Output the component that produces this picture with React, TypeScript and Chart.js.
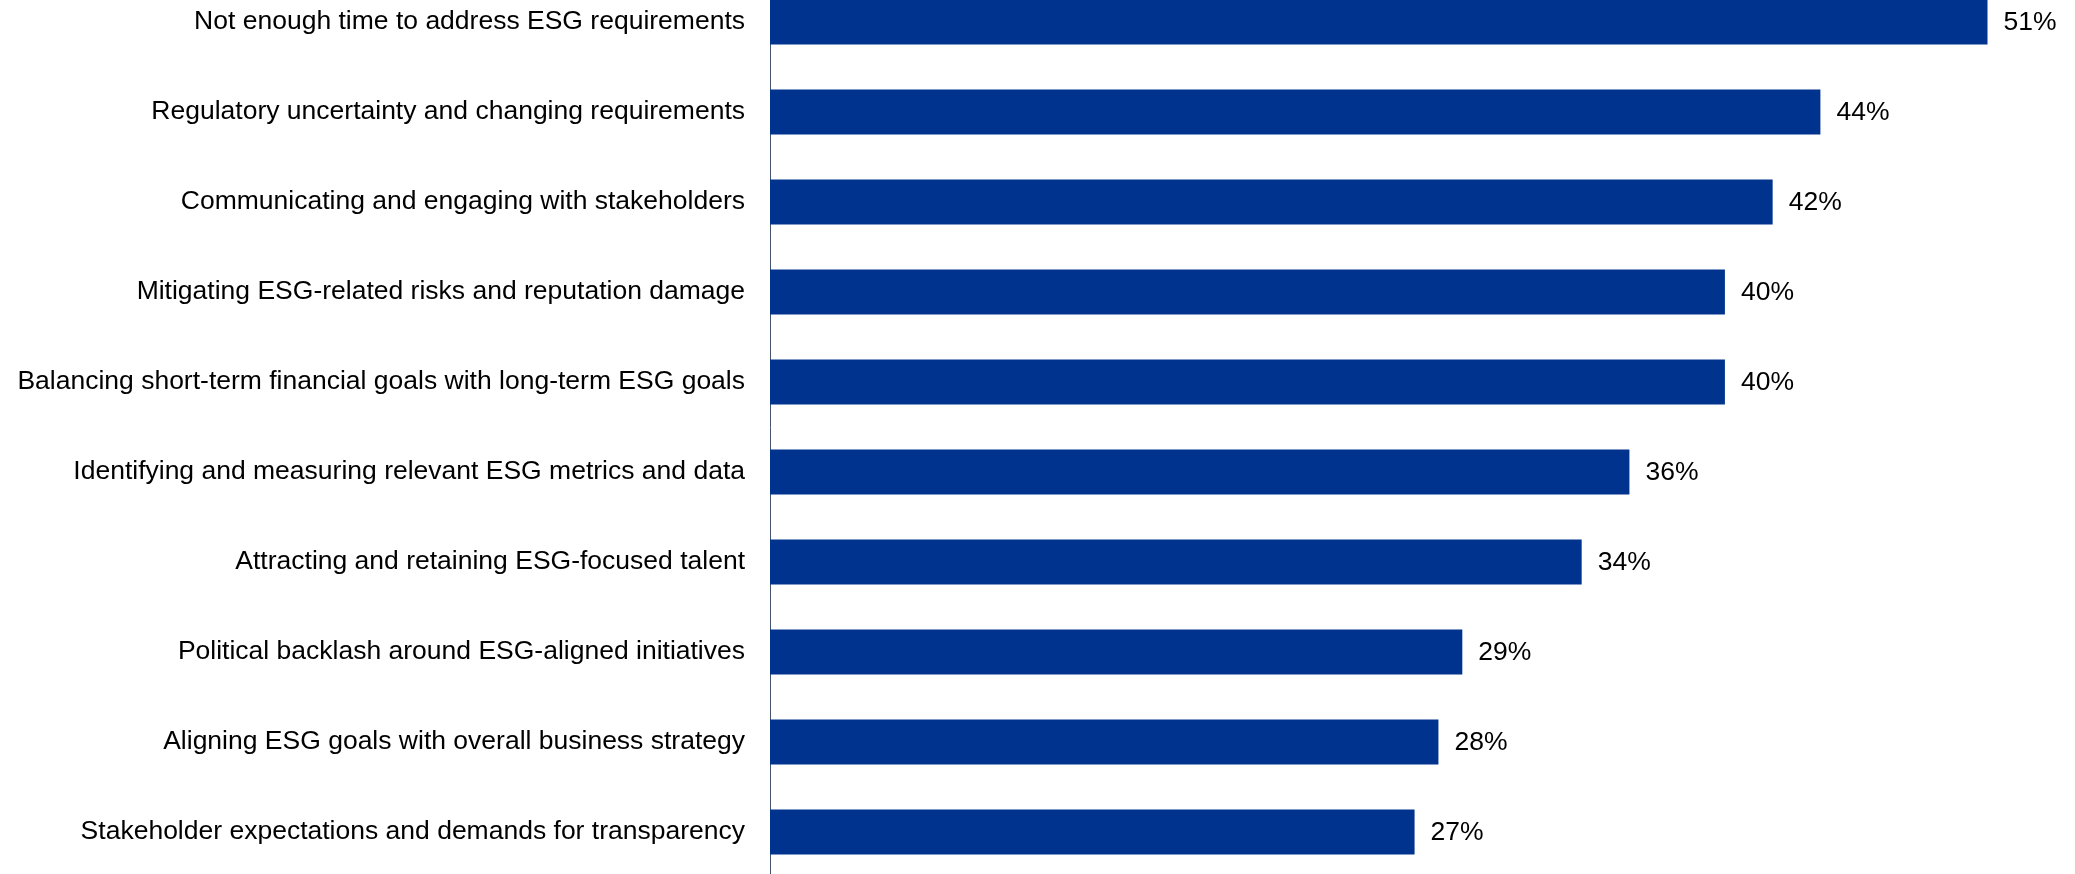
import React, { useEffect, useRef } from "react";
import { Chart, registerables } from "chart.js";

Chart.register(...registerables);

const categories: string[] = [
  "Not enough time to address ESG requirements",
  "Regulatory uncertainty and changing requirements",
  "Communicating and engaging with stakeholders",
  "Mitigating ESG-related risks and reputation damage",
  "Balancing short-term financial goals with long-term ESG goals",
  "Identifying and measuring relevant ESG metrics and data",
  "Attracting and retaining ESG-focused talent",
  "Political backlash around ESG-aligned initiatives",
  "Aligning ESG goals with overall business strategy",
  "Stakeholder expectations and demands for transparency",
];

const values: number[] = [51, 44, 42, 40, 40, 36, 34, 29, 28, 27];

const BAR_COLOR = "#00338D";
const AXIS_COLOR = "#44546A";
const FONT_FAMILY = "'Liberation Sans', Arial, sans-serif";
const FONT_SIZE = 26.5;

const valueLabels = {
  id: "valueLabels",
  afterDatasetsDraw(chart: any) {
    const ctx = chart.ctx;
    const meta = chart.getDatasetMeta(0);
    ctx.save();
    ctx.font = `${FONT_SIZE}px ${FONT_FAMILY}`;
    ctx.fillStyle = "#000000";
    ctx.textAlign = "left";
    ctx.textBaseline = "middle";
    meta.data.forEach((bar: any, i: number) => {
      ctx.fillText(`${values[i]}%`, bar.x + 16, bar.y + 1);
    });
    ctx.restore();
  },
};

export default function App() {
  const canvasRef = useRef<HTMLCanvasElement | null>(null);

  useEffect(() => {
    document.documentElement.style.overflow = "hidden";
    document.body.style.overflow = "hidden";
    const canvas = canvasRef.current;
    if (!canvas) return;
    const chart = new Chart(canvas, {
      type: "bar",
      data: {
        labels: categories,
        datasets: [
          {
            data: values,
            backgroundColor: BAR_COLOR,
            borderWidth: 0,
            barPercentage: 0.5,
            categoryPercentage: 1,
          },
        ],
      },
      options: {
        indexAxis: "y",
        animation: false,
        responsive: false,
        maintainAspectRatio: false,
        layout: { padding: 0 },
        plugins: {
          legend: { display: false },
          tooltip: { enabled: false },
          title: { display: false },
        },
        scales: {
          x: {
            min: 0,
            max: 55,
            display: false,
            grid: { display: false },
          },
          y: {
            afterFit: (scale: any) => {
              scale.width = 770;
              scale.paddingTop = 0;
              scale.paddingBottom = 0;
            },
            grid: { display: false, drawTicks: false },
            border: { display: true, color: AXIS_COLOR, width: 1 },
            ticks: {
              padding: 25,
              color: "#000000",
              font: { family: FONT_FAMILY, size: FONT_SIZE },
            },
          },
        },
      },
      plugins: [valueLabels],
    });
    return () => chart.destroy();
  }, []);

  return (
    <div
      style={{
        position: "fixed",
        left: 0,
        top: -23,
        width: 2083,
        height: 900,
        background: "#ffffff",
      }}
    >
      <canvas ref={canvasRef} width={2083} height={900} style={{ display: "block" }} />
    </div>
  );
}
